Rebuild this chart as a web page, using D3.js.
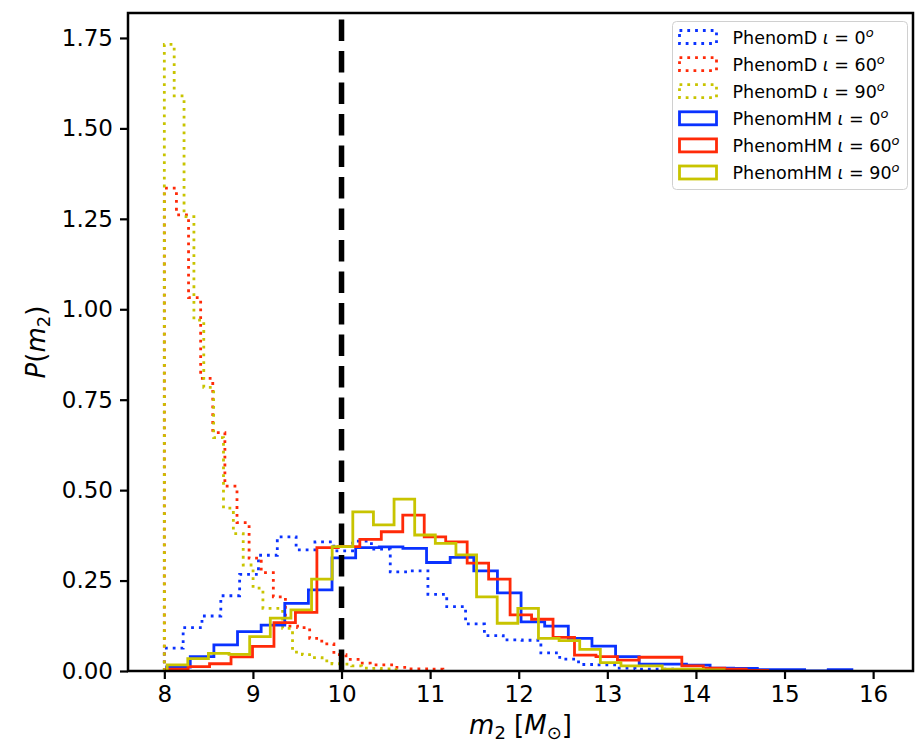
<!DOCTYPE html>
<meta charset="utf-8">
<script src="https://d3js.org/d3.v7.min.js"></script>
<style>
  body { margin: 0; background: #fff; }
  text { font-family: "DejaVu Sans", sans-serif; fill: #000; }
</style>
<div id="my_dataviz"></div>
<script>

// histogram ranges [lo, hi] in M_sun (equal bins) and densities
var phenD0_range = [8.0, 13.95];
var phenD0 = [0.063, 0.12, 0.152, 0.208, 0.267, 0.32, 0.371, 0.335, 0.357, 0.332, 0.359, 0.337, 0.274, 0.277,
              0.212, 0.178, 0.13, 0.098, 0.086, 0.085, 0.05, 0.033, 0.018, 0.017, 0.008, 0.005, 0.005, 0.002];

var phenD60_range = [8.0, 11.144];
var phenD60 = [1.335, 1.261, 1.032, 0.809, 0.659, 0.511, 0.41, 0.312, 0.272, 0.205, 0.124, 0.12,
               0.09, 0.075, 0.045, 0.032, 0.022, 0.017, 0.017, 0.01, 0.006, 0.006, 0.005];

var phenD90_range = [8.0, 10.671];
var phenD90 = [1.732, 1.59, 1.256, 0.97, 0.784, 0.645, 0.45, 0.38, 0.293, 0.229, 0.173, 0.173,
               0.118, 0.052, 0.045, 0.037, 0.028, 0.02, 0.019, 0.014, 0.008, 0.007, 0.006, 0.004];

var phenHM0_range = [8.026, 15.76];
var phenHM0 = [0.011, 0.04, 0.072, 0.109, 0.127, 0.187, 0.224, 0.313, 0.341, 0.343, 0.339, 0.3, 0.314, 0.277,
               0.216, 0.136, 0.124, 0.09, 0.069, 0.04, 0.019, 0.019, 0.016, 0.008, 0.007, 0.004, 0.004, 0, 0.004];

var phenHM60_range = [8.026, 14.81];
var phenHM60 = [0.005, 0.012, 0.02, 0.039, 0.068, 0.134, 0.162, 0.341, 0.344, 0.364, 0.385, 0.431, 0.371, 0.357,
                0.298, 0.254, 0.155, 0.143, 0.093, 0.044, 0.04, 0.03, 0.038, 0.038, 0.014, 0.008, 0.005, 0.002];

var phenHM90_range = [8.032, 14.318];
var phenHM90 = [0.017, 0.034, 0.049, 0.046, 0.095, 0.146, 0.169, 0.254, 0.344, 0.44, 0.404, 0.475, 0.376, 0.353,
                0.321, 0.205, 0.132, 0.173, 0.09, 0.084, 0.06, 0.023, 0.014, 0.014, 0.005, 0.005, 0.003];

var legendModels = ["PhenomD", "PhenomD", "PhenomD", "PhenomHM", "PhenomHM", "PhenomHM"];
var legendIotas = ["0", "60", "90", "0", "60", "90"];

var xTicks = [8, 9, 10, 11, 12, 13, 14, 15, 16];
var yTicks = [0, 0.25, 0.5, 0.75, 1.0, 1.25, 1.5, 1.75];
var cutoff = 10;

var blue = "#0a32ff", red = "#ff2a08", yel = "#c8c400";

var series = [
  {range: phenD0_range, vals: phenD0, color: blue, dotted: true},
  {range: phenD60_range, vals: phenD60, color: red, dotted: true},
  {range: phenD90_range, vals: phenD90, color: yel, dotted: true},
  {range: phenHM0_range, vals: phenHM0, color: blue, dotted: false},
  {range: phenHM60_range, vals: phenHM60, color: red, dotted: false},
  {range: phenHM90_range, vals: phenHM90, color: yel, dotted: false}
];

// axes box
var margin = {top: 13, right: 2, bottom: 73, left: 128},
    W = 915, H = 744,
    width = W - margin.left - margin.right,
    height = H - margin.top - margin.bottom;

var svg = d3.select("#my_dataviz")
  .append("svg")
    .attr("width", W)
    .attr("height", H);

var g = svg.append("g")
    .attr("transform", "translate(" + margin.left + "," + margin.top + ")");

var x = d3.scaleLinear().domain([7.59, 16.45]).range([0, width]);
var y = d3.scaleLinear().domain([0, 1.819]).range([height, 0]);

g.append("clipPath").attr("id", "clip")
  .append("rect").attr("width", width).attr("height", height);

var plot = g.append("g").attr("clip-path", "url(#clip)");

var line = d3.line()
  .x(function(d) { return x(d[0]); })
  .y(function(d) { return y(d[1]); });

function stepPoints(s) {
  var n = s.vals.length, lo = s.range[0], w = (s.range[1] - s.range[0]) / n;
  var pts = [[lo, 0]];
  s.vals.forEach(function(v, i) {
    pts.push([lo + i * w, v]);
    pts.push([lo + (i + 1) * w, v]);
  });
  pts.push([s.range[1], 0]);
  return pts;
}

series.forEach(function(s) {
  plot.append("path")
    .datum(stepPoints(s))
    .attr("fill", "none")
    .attr("stroke", s.color)
    .attr("stroke-width", 2.8)
    .attr("stroke-linejoin", "miter")
    .attr("stroke-dasharray", s.dotted ? "2.8,5" : null)
    .attr("d", line);
});

// dashed vertical line at m2 = 10
g.append("line")
  .attr("x1", x(cutoff)).attr("x2", x(cutoff))
  .attr("y1", height).attr("y2", 0)
  .attr("stroke", "#000")
  .attr("stroke-width", 5.5)
  .attr("stroke-dasharray", "21.5,10");

// axes
var xAxis = g.append("g")
  .attr("transform", "translate(0," + height + ")")
  .call(d3.axisBottom(x).tickValues(xTicks).tickSize(8).tickPadding(7).tickFormat(d3.format("d")));
var yAxis = g.append("g")
  .call(d3.axisLeft(y).tickValues(yTicks).tickSize(8).tickPadding(7).tickFormat(d3.format(".2f")));

[xAxis, yAxis].forEach(function(a) {
  a.select(".domain").remove();
  a.selectAll(".tick line").attr("stroke", "#000").attr("stroke-width", 2.2);
  a.selectAll(".tick text").attr("font-size", 23).attr("font-family", "DejaVu Sans");
});

// spines
g.append("rect")
  .attr("width", width).attr("height", height)
  .attr("fill", "none").attr("stroke", "#000").attr("stroke-width", 2.5);

// axis labels
var yl = svg.append("text")
  .attr("transform", "translate(45," + (margin.top + height / 2) + ") rotate(-90)")
  .attr("text-anchor", "middle")
  .attr("font-size", 26);
yl.append("tspan").attr("font-style", "italic").text("P");
yl.append("tspan").text("(");
yl.append("tspan").attr("font-style", "italic").text("m");
yl.append("tspan").attr("font-size", 18).attr("dy", 5).text("2");
yl.append("tspan").attr("dy", -5).text(")");

var xl = svg.append("text")
  .attr("x", margin.left + width / 2)
  .attr("y", 734)
  .attr("text-anchor", "middle")
  .attr("font-size", 26);
xl.append("tspan").attr("font-style", "italic").text("m");
xl.append("tspan").attr("font-size", 18).attr("dy", 5).text("2");
xl.append("tspan").attr("dy", -5).text(" [");
xl.append("tspan").attr("font-style", "italic").text("M");
xl.append("tspan").attr("font-size", 18).attr("dy", 5).text("\u2299");
xl.append("tspan").attr("dy", -5).text("]");

// legend
var leg = svg.append("g").attr("transform", "translate(672.5,21.5)");
leg.append("rect")
  .attr("width", 235).attr("height", 168)
  .attr("rx", 4).attr("ry", 4)
  .attr("fill", "#fff").attr("fill-opacity", 0.8)
  .attr("stroke", "#d0d0d0").attr("stroke-width", 1);

series.forEach(function(s, i) {
  var row = leg.append("g").attr("transform", "translate(0," + (15.5 + i * 27.1) + ")");
  row.append("rect")
    .attr("x", 7).attr("y", -6.5).attr("width", 37).attr("height", 13)
    .attr("fill", "none")
    .attr("stroke", s.color).attr("stroke-width", 2.8)
    .attr("stroke-dasharray", s.dotted ? "2.8,5" : null);
  var t = row.append("text")
    .attr("x", 60).attr("y", 6.5)
    .attr("font-size", 17.5)
    .attr("fill", "#222");
  t.append("tspan").text(legendModels[i] + " ");
  t.append("tspan").attr("font-style", "italic").text("\u03b9");
  t.append("tspan").text(" = " + legendIotas[i]);
  t.append("tspan").attr("font-style", "italic").attr("font-size", 13).attr("dy", -7).text("o");
});

</script>
